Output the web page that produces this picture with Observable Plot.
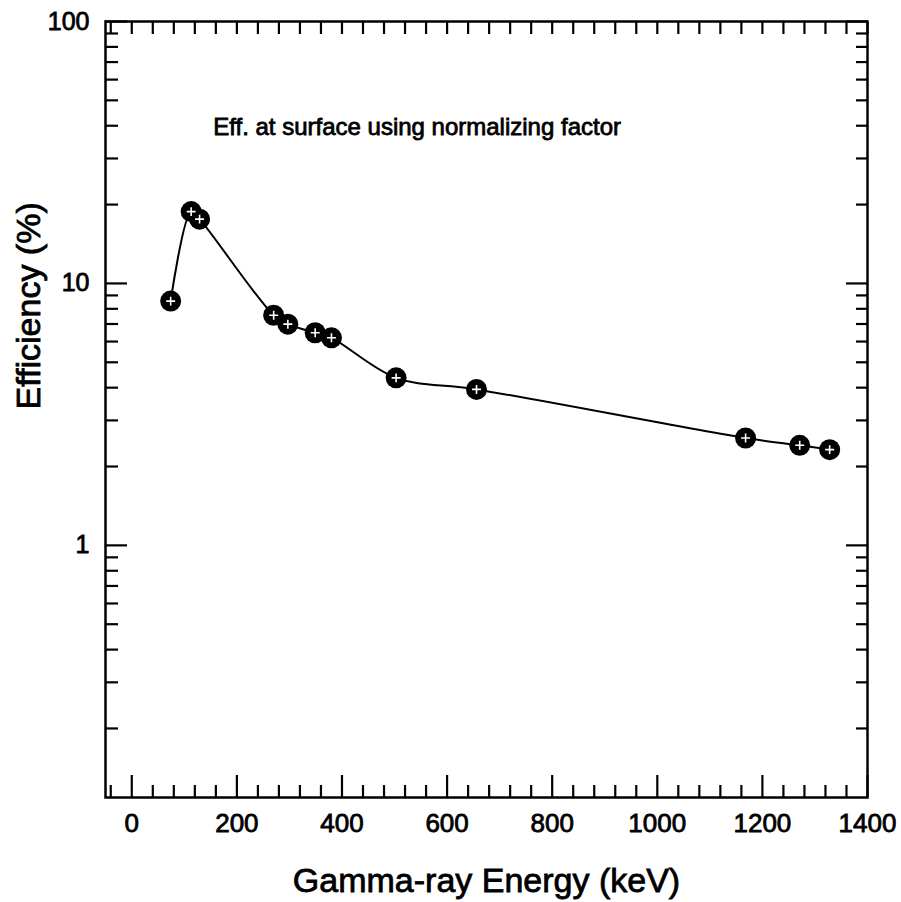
<!DOCTYPE html>
<html>
<head>
<meta charset="utf-8">
<script src="https://cdn.jsdelivr.net/npm/d3@7"></script>
<script src="https://cdn.jsdelivr.net/npm/@observablehq/plot@0.6"></script>
<style>
  html, body { margin: 0; padding: 0; background: #fff; }
  #chart svg text { stroke: #000; stroke-width: 0.8px; }
</style>
</head>
<body>
<div id="chart"></div>
<script>
// Data
const energyKeV = [74, 113, 129, 270, 297, 349, 380, 503, 656, 1168, 1271, 1328];
const efficiencyPct = [8.56, 18.8, 17.6, 7.56, 6.99, 6.48, 6.2, 4.36, 3.94, 2.57, 2.41, 2.32];

const xMajorTicks = [0, 200, 400, 600, 800, 1000, 1200, 1400];
const xMinorTicks = [-40, 40, 80, 120, 160, 240, 280, 320, 360, 440, 480, 520, 560, 640, 680, 720, 760, 840, 880, 920, 960, 1040, 1080, 1120, 1160, 1240, 1280, 1320, 1360];
const yMajorTicks = [1, 10, 100];
const yMinorTicks = [0.2, 0.3, 0.4, 0.5, 0.6, 0.7, 0.8, 0.9, 2, 3, 4, 5, 6, 7, 8, 9, 20, 30, 40, 50, 60, 70, 80, 90];

const xLabel = "Gamma-ray Energy (keV)";
const yLabel = "Efficiency (%)";
const noteText = "Eff. at surface using normalizing factor";
const notePos = {x: 155, y: 37};

const data = energyKeV.map((e, i) => ({energy: e, eff: efficiencyPct[i]}));

const font = "Liberation Sans, Arial, Helvetica, sans-serif";

const chart = Plot.plot({
  width: 901,
  height: 902,
  marginLeft: 105,
  marginRight: 34,
  marginTop: 21,
  marginBottom: 105,
  style: {fontFamily: font, background: "white", color: "black"},
  x: {type: "linear", domain: [-50, 1400]},
  y: {type: "log", domain: [0.109, 100]},
  marks: [
    // inward tick marks
    Plot.axisX(xMajorTicks, {anchor: "bottom", tickSize: -22, strokeWidth: 2.2, fill: "none"}),
    Plot.axisX(xMinorTicks, {anchor: "bottom", tickSize: -12, strokeWidth: 2.2, fill: "none"}),
    Plot.axisX(xMajorTicks.concat(xMinorTicks), {anchor: "top", tickSize: -12, strokeWidth: 2.2, fill: "none"}),
    Plot.axisY(yMajorTicks, {anchor: "left", tickSize: -22, strokeWidth: 2.2, fill: "none"}),
    Plot.axisY(yMinorTicks, {anchor: "left", tickSize: -13, strokeWidth: 2.2, fill: "none"}),
    Plot.axisY(yMajorTicks, {anchor: "right", tickSize: -22, strokeWidth: 2.2, fill: "none"}),
    Plot.axisY(yMinorTicks, {anchor: "right", tickSize: -12, strokeWidth: 2.2, fill: "none"}),
    // tick labels
    Plot.axisX(xMajorTicks, {anchor: "bottom", tickSize: 0, tickPadding: 16, fontSize: 26, label: null, tickFormat: d => String(d)}),
    Plot.axisY(yMajorTicks, {anchor: "left", tickSize: 0, tickPadding: 16, fontSize: 25, label: null, tickFormat: d => String(d)}),
    Plot.frame({stroke: "black", strokeWidth: 2.5}),
    // data
    Plot.line(data, {x: "energy", y: "eff", curve: "catmull-rom", stroke: "black", strokeWidth: 2}),
    Plot.dot(data, {x: "energy", y: "eff", r: 10.5, fill: "black", stroke: "none"}),
    Plot.dot(data, {x: "energy", y: "eff", symbol: "plus", r: 3, stroke: "white", strokeWidth: 1.6, fill: "none"}),
    // annotation
    Plot.text([noteText], {x: notePos.x, y: notePos.y, text: d => d, textAnchor: "start", lineAnchor: "bottom", fontSize: 24, fill: "black"}),
    // axis titles
    Plot.text([xLabel], {frameAnchor: "bottom", text: d => d, dy: 70, lineAnchor: "top", fontSize: 34, fill: "black"}),
    Plot.text([yLabel], {frameAnchor: "left", text: d => d, rotate: -90, dx: -90, lineAnchor: "top", fontSize: 34, fill: "black"})
  ]
});

document.getElementById("chart").appendChild(chart);
</script>
</body>
</html>
